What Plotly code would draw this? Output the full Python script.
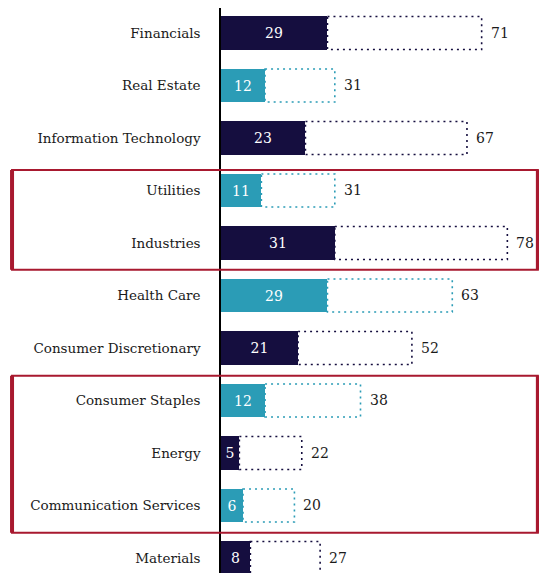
"""Sector share chart: filled bar for the portion, dotted box up to the total."""

import plotly.graph_objects as go

SECTORS = [
    "Financials",
    "Real Estate",
    "Information Technology",
    "Utilities",
    "Industries",
    "Health Care",
    "Consumer Discretionary",
    "Consumer Staples",
    "Energy",
    "Communication Services",
    "Materials",
]
PORTION = [29, 12, 23, 11, 31, 29, 21, 12, 5, 6, 8]
TOTAL = [71, 31, 67, 31, 78, 63, 52, 38, 22, 20, 27]
# red highlight boxes, as (top, bottom) in row units
HIGHLIGHT_SPANS = [(2.61, 4.51), (6.53, 9.52)]

NAVY = "#150E3F"
TEAL = "#2B9CB6"
RED = "#A8192F"
FONT = "DejaVu Serif"
BAR_W = 0.63
BOX_X = (-0.641, 0.972)  # paper coords of the red box sides

rows = list(range(len(SECTORS)))
colors = [NAVY if i % 2 == 0 else TEAL for i in rows]

fig = go.Figure()

fig.add_trace(
    go.Bar(
        x=PORTION,
        y=rows,
        orientation="h",
        width=BAR_W,
        marker={"color": colors, "line": {"width": 0}},
        text=[str(v) for v in PORTION],
        textposition="inside",
        insidetextanchor="middle",
        constraintext="none",
        textfont={"color": "white", "size": 14, "family": FONT},
        showlegend=False,
        hoverinfo="skip",
    )
)

# dotted remainder boxes
for i, (p, t) in enumerate(zip(PORTION, TOTAL)):
    fig.add_shape(
        type="rect",
        xref="x",
        yref="y",
        x0=p,
        x1=t,
        y0=i - BAR_W / 2,
        y1=i + BAR_W / 2,
        line={"color": colors[i], "width": 1.6, "dash": "2px,4px"},
        fillcolor="rgba(0,0,0,0)",
    )
    fig.add_annotation(
        x=t,
        y=i,
        xref="x",
        yref="y",
        text=str(t),
        showarrow=False,
        xanchor="left",
        xshift=7,
        font={"size": 14, "color": "#1a1a1a", "family": FONT},
    )

for top, bottom in HIGHLIGHT_SPANS:
    fig.add_shape(
        type="rect",
        xref="paper",
        yref="y",
        x0=BOX_X[0],
        x1=BOX_X[1],
        y0=top,
        y1=bottom,
        line={"color": RED, "width": 2},
        fillcolor="rgba(0,0,0,0)",
    )
    # heavier left/right sides
    for side in BOX_X:
        fig.add_shape(
            type="line",
            xref="paper",
            yref="y",
            x0=side,
            x1=side,
            y0=top,
            y1=bottom,
            line={"color": RED, "width": 4},
        )

# the page body adds an 8px margin on every side
fig.update_layout(
    width=539,
    height=565,
    paper_bgcolor="white",
    plot_bgcolor="white",
    font={"family": FONT, "color": "#1a1a1a", "size": 13},
    margin={"l": 213, "r": 0, "t": 0, "b": 0},
    bargap=0,
)

fig.update_xaxes(
    range=[0, 88.8],
    visible=False,
    showgrid=False,
    zeroline=False,
)
fig.update_yaxes(
    range=[10.286, -0.476],
    tickmode="array",
    tickvals=rows,
    ticktext=SECTORS,
    ticks="",
    ticklabelstandoff=16,
    showgrid=False,
    zeroline=False,
    showline=True,
    linecolor="black",
    linewidth=1.5,
    tickfont={"size": 13.5, "color": "#1a1a1a", "family": FONT},
)

fig.write_html("out.html")
